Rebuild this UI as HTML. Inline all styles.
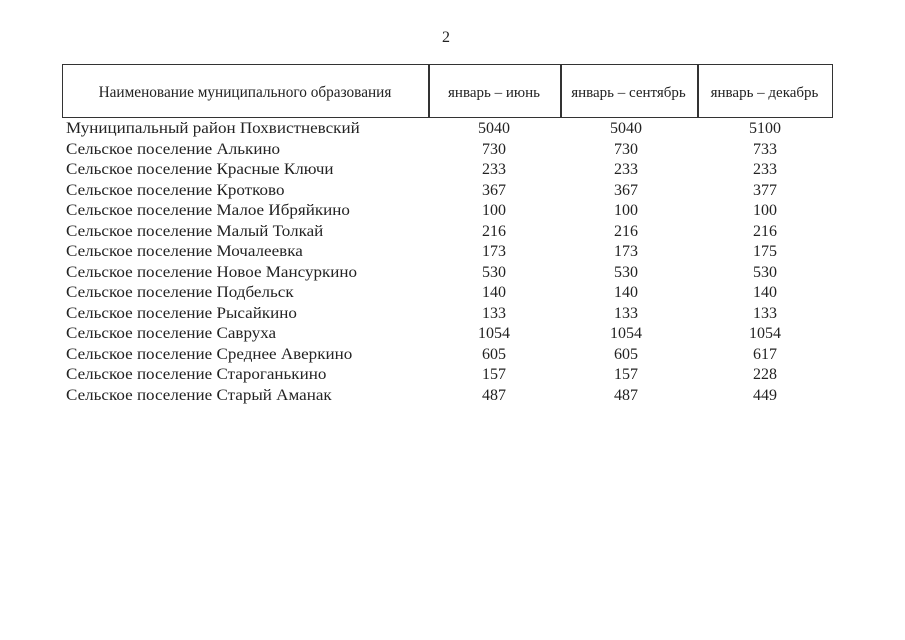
<!DOCTYPE html>
<html><head><meta charset="utf-8"><style>
body{margin:0;width:905px;height:640px;background:#fff;overflow:hidden;font-family:"Liberation Serif",serif;color:#222;position:relative}
.t{position:absolute;white-space:nowrap;font-size:16px;line-height:20px}
.n{transform:scaleX(1.065);transform-origin:0 0}
.box{position:absolute;border:1.5px solid #333}
.v{position:absolute;top:64px;height:53px;width:1.5px;background:#333}
</style></head><body>
<div class="t" style="left:442px;top:28px">2</div>
<div class="box" style="left:62px;top:64px;width:769px;height:52px"></div>
<div class="v" style="left:428px"></div>
<div class="v" style="left:560px"></div>
<div class="v" style="left:697px"></div>
<div class="t" style="left:62px;width:366px;top:83px;text-align:center;font-size:15.3px">Наименование муниципального образования</div>
<div class="t" style="left:428px;width:132px;top:83px;text-align:center;font-size:15px">январь – июнь</div>
<div class="t" style="left:560px;width:137px;top:83px;text-align:center;font-size:15px">январь – сентябрь</div>
<div class="t" style="left:697px;width:135px;top:83px;text-align:center;font-size:15px">январь – декабрь</div>
<div id="rows"></div>
<script>
var d=[["Муниципальный район Похвистневский",5040,5040,5100],["Сельское поселение Алькино",730,730,733],["Сельское поселение Красные Ключи",233,233,233],["Сельское поселение Кротково",367,367,377],["Сельское поселение Малое Ибряйкино",100,100,100],["Сельское поселение Малый Толкай",216,216,216],["Сельское поселение Мочалеевка",173,173,175],["Сельское поселение Новое Мансуркино",530,530,530],["Сельское поселение Подбельск",140,140,140],["Сельское поселение Рысайкино",133,133,133],["Сельское поселение Савруха",1054,1054,1054],["Сельское поселение Среднее Аверкино",605,605,617],["Сельское поселение Староганькино",157,157,228],["Сельское поселение Старый Аманак",487,487,449]];
var h="";d.forEach(function(r,i){var y=119+i*20.5;
h+='<div class="t n" style="left:66px;top:'+y+'px">'+r[0]+'</div>';
[494,626,765].forEach(function(c,j){h+='<div class="t" style="left:'+(c-50)+'px;width:100px;text-align:center;top:'+y+'px">'+r[j+1]+'</div>';});});
document.getElementById("rows").innerHTML=h;
</script>
</body></html>
